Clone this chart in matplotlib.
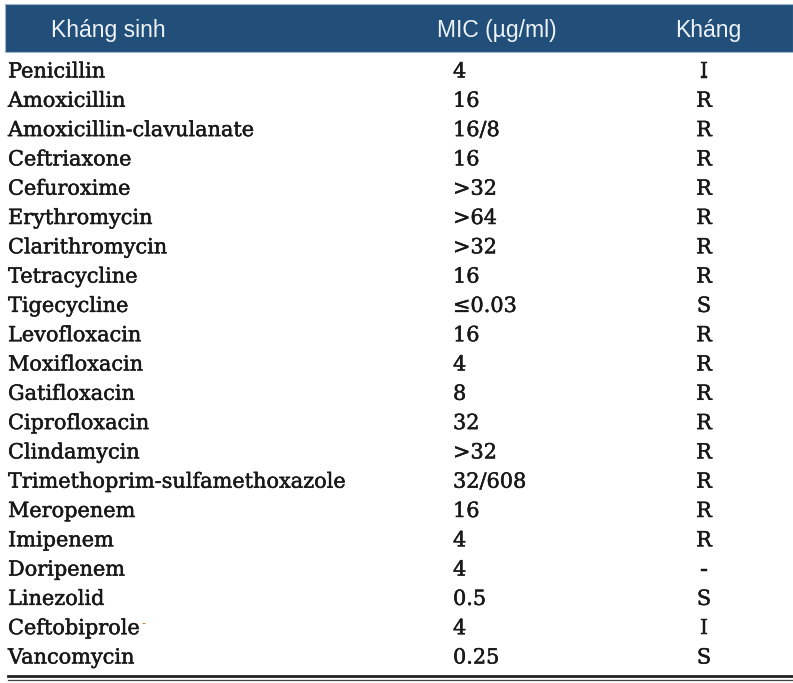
import matplotlib
matplotlib.use("Agg")
import matplotlib.pyplot as plt
import matplotlib.patheffects as pe
from matplotlib.patches import Rectangle

# table content
headers = ["Kháng sinh", "MIC (µg/ml)", "Kháng"]
drugs = ["Penicillin", "Amoxicillin", "Amoxicillin-clavulanate", "Ceftriaxone",
         "Cefuroxime", "Erythromycin", "Clarithromycin", "Tetracycline",
         "Tigecycline", "Levofloxacin", "Moxifloxacin", "Gatifloxacin",
         "Ciprofloxacin", "Clindamycin", "Trimethoprim-sulfamethoxazole",
         "Meropenem", "Imipenem", "Doripenem", "Linezolid", "Ceftobiprole",
         "Vancomycin"]
mic = ["4", "16", "16/8", "16", ">32", ">64", ">32", "16", "≤0.03", "16", "4",
       "8", "32", ">32", "32/608", "16", "4", "4", "0.5", "4", "0.25"]
resist = ["I", "R", "R", "R", "R", "R", "R", "R", "S", "R", "R", "R", "R", "R",
          "R", "R", "R", "-", "S", "I", "S"]

W, H = 793, 683
fig = plt.figure(figsize=(W / 100, H / 100), dpi=100)
ax = fig.add_axes([0, 0, 1, 1])
ax.set_xlim(0, W)
ax.set_ylim(H, 0)
ax.axis("off")

# header band
ax.add_patch(Rectangle((5, 4), W - 5, 48, facecolor="#224f7a",
                       edgecolor="#9fb6cc", linewidth=0.8))
hfont = dict(family="Liberation Sans", fontsize=16.5, color="#eef3f8", va="center")
ax.text(51, 30, headers[0], ha="left", **hfont)
ax.text(497, 30, headers[1], ha="center", **hfont)
ax.text(708, 30, headers[2], ha="center", **hfont)

# body rows
ink = "#181818"
bold_fx = [pe.withStroke(linewidth=0.35, foreground=ink)]
bfont = dict(family="DejaVu Serif", fontsize=15, color=ink, va="baseline",
             path_effects=bold_fx)
y0, dy = 77.5, 29.3
for i, (d, m, r) in enumerate(zip(drugs, mic, resist)):
    y = y0 + i * dy
    t = ax.text(8, y, d, ha="left", **bfont)
    ax.text(453, y, m, ha="left", **bfont)
    ax.text(704, y, r, ha="center", **bfont)
    if d == "Ceftobiprole":
        # small superscript mark after the name
        fig.canvas.draw()
        bb = t.get_window_extent()
        ax.text(bb.x1 + 1, y - 11, "-", ha="left", va="center", fontsize=9,
                color="#b5651d", family="DejaVu Serif")

# bottom double rule
ax.plot([8, W], [676, 676], color="#222222", linewidth=2.0)
ax.plot([8, W], [679.5, 679.5], color="#444444", linewidth=0.9)

fig.savefig("out.png", dpi=100)
